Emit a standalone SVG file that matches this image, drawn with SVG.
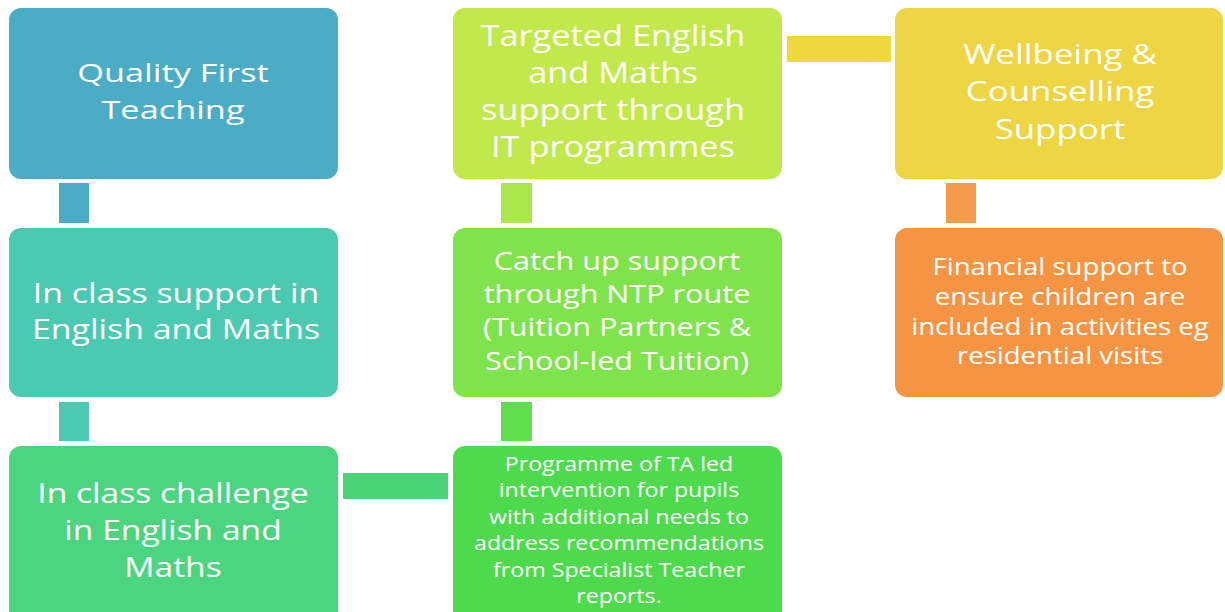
<svg xmlns="http://www.w3.org/2000/svg" width="1225" height="612" viewBox="0 0 1225 612">
<style>
.t{font-family:"Open Sans","Liberation Sans",sans-serif;fill:#ffffff;text-anchor:middle}
</style>
<rect x="0" y="0" width="1225" height="612" fill="#ffffff"/>
<g id="connectors">
<rect x="59" y="183" width="30" height="40" fill="#4BACC6"/>
<rect x="59" y="402" width="30" height="39" fill="#4BC9B1"/>
<rect x="343" y="473" width="105" height="26" fill="#4AD47A"/>
<rect x="501" y="183" width="31" height="40" fill="#AAE74B"/>
<rect x="501" y="402" width="31" height="39" fill="#5EDF4B"/>
<rect x="787" y="36" width="104" height="26" fill="#EDD93F"/>
<rect x="946" y="183" width="30" height="40" fill="#F59B4B"/>
</g>
<g id="quality-first">
<rect x="9" y="8" width="329" height="171" rx="12" fill="#4BACC6"/>
<g class="t" font-size="26" transform="translate(173,0) scale(1.32,1)">
<text x="0" y="82.5">Quality First</text>
<text x="0" y="119.5">Teaching</text>
</g>
</g>
<g id="in-class-support">
<rect x="9" y="228" width="329" height="169" rx="12" fill="#4BC9B1"/>
<g class="t" font-size="28" transform="translate(176,0) scale(1.21,1)">
<text x="0" y="303">In class support in</text>
<text x="0" y="339.5">English and Maths</text>
</g>
</g>
<g id="in-class-challenge">
<rect x="9" y="446" width="329" height="180" rx="12" fill="#4CD580"/>
<g class="t" font-size="28" transform="translate(173,0) scale(1.2,1)">
<text x="0" y="503">In class challenge</text>
<text x="0" y="540">in English and</text>
<text x="0" y="577">Maths</text>
</g>
</g>
<g id="targeted">
<rect x="453" y="8" width="329" height="171" rx="12" fill="#C1E94B"/>
<g class="t" font-size="29" transform="translate(613,0) scale(1.184,1)">
<text x="0" y="46">Targeted English</text>
<text x="0" y="83">and Maths</text>
<text x="0" y="120.5">support through</text>
<text x="0" y="157">IT programmes</text>
</g>
</g>
<g id="catch-up">
<rect x="453" y="228" width="329" height="169" rx="12" fill="#7FE34B"/>
<g class="t" font-size="25.5" transform="translate(617,0) scale(1.2,1)">
<text x="0" y="270">Catch up support</text>
<text x="0" y="303">through NTP route</text>
<text x="0" y="336.5">(Tuition Partners &amp;</text>
<text x="0" y="370">School-led Tuition)</text>
</g>
</g>
<g id="programme">
<rect x="453" y="446" width="329" height="180" rx="12" fill="#4DDB4D"/>
<g class="t" font-size="20" transform="translate(619,0) scale(1.16,1)">
<text x="0" y="471">Programme of TA led</text>
<text x="0" y="497.5">intervention for pupils</text>
<text x="0" y="524">with additional needs to</text>
<text x="0" y="550">address recommendations</text>
<text x="0" y="577">from Specialist Teacher</text>
<text x="0" y="603">reports.</text>
</g>
</g>
<g id="wellbeing">
<rect x="895" y="8" width="328" height="171" rx="12" fill="#EDD543"/>
<g class="t" font-size="27" transform="translate(1060,0) scale(1.29,1)">
<text x="0" y="64">Wellbeing &amp;</text>
<text x="0" y="101.5">Counselling</text>
<text x="0" y="139">Support</text>
</g>
</g>
<g id="financial">
<rect x="895" y="228" width="328" height="169" rx="12" fill="#F59543"/>
<g class="t" font-size="23" transform="translate(1060,0) scale(1.2,1)">
<text x="0" y="275">Financial support to</text>
<text x="0" y="305">ensure children are</text>
<text x="0" y="335">included in activities eg</text>
<text x="0" y="364">residential visits</text>
</g>
</g>
</svg>
